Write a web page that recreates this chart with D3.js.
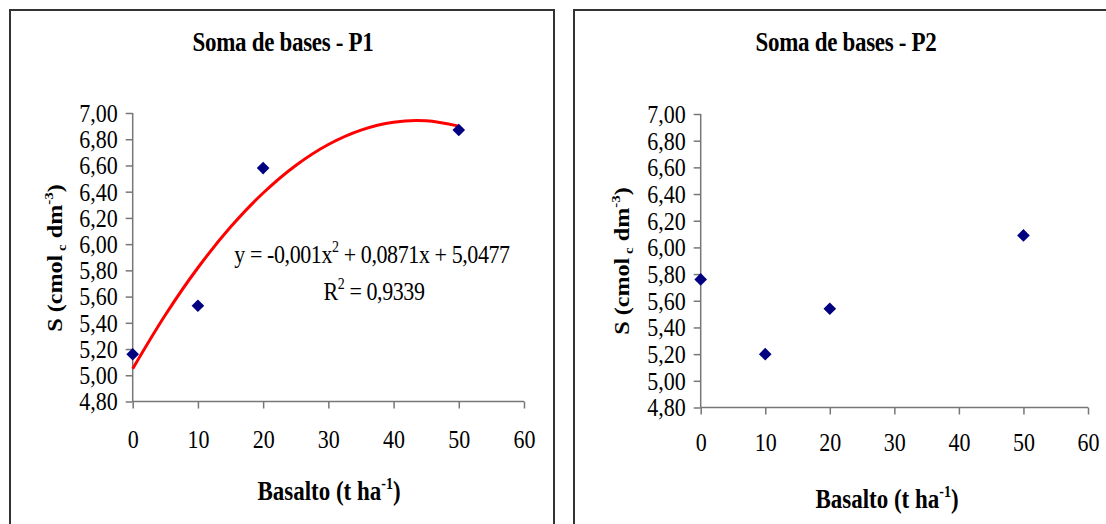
<!DOCTYPE html>
<html>
<head>
<meta charset="utf-8">
<script src="https://cdn.jsdelivr.net/npm/d3@7"></script>
<style>
  html, body { margin: 0; padding: 0; background: #fff; }
  svg text { font-family: "Liberation Serif", "Times New Roman", serif !important; }
</style>
</head>
<body>
<div id="chart"></div>
<script>
// dados
const doses = [0, 10, 20, 50];
const somaP1 = [5.16, 5.53, 6.58, 6.87];
const somaP2 = [5.76, 5.20, 5.54, 6.09];
// linha de tendência (polinomial) P1
const trendDoses = [0, 5, 10, 15, 20, 25, 30, 35, 40, 45, 50];
const trendP1 = [5.05, 5.46, 5.82, 6.13, 6.39, 6.60, 6.76, 6.87, 6.93, 6.94, 6.90];
const xTicks = [0, 10, 20, 30, 40, 50, 60];
const yTicks = [4.8, 5.0, 5.2, 5.4, 5.6, 5.8, 6.0, 6.2, 6.4, 6.6, 6.8, 7.0];
const titles = ['Soma de bases - P1', 'Soma de bases - P2'];

const W = 1106, H = 524;
const SY = 1.15; // texto do original é esticado na vertical
const br = d3.formatLocale({ decimal: ',', thousands: '.', grouping: [3], currency: ['R$', ''] });
const fmt = br.format('.2f');

const svg = d3.select('#chart').append('svg')
    .attr('width', W)
    .attr('height', H);

// texto posicionado com esticamento vertical
function label (g, x, y, size, bold) {
    return g.append('text')
        .attr('transform', `translate(${x},${y}) scale(1,${SY})`)
        .attr('text-anchor', 'middle')
        .attr('font-weight', bold ? 'bold' : null)
        .attr('font-size', size);
}

function panel (opts) {
    const g = svg.append('g');

    // moldura
    g.append('rect')
        .attr('x', opts.box[0]).attr('y', opts.box[1])
        .attr('width', opts.box[2]).attr('height', opts.box[3])
        .attr('fill', 'none')
        .attr('stroke', '#333')
        .attr('stroke-width', 2);

    const x = d3.scaleLinear().domain([0, 60]).range(opts.xr);
    const y = d3.scaleLinear().domain([4.8, 7]).range(opts.yr);

    // eixos
    const yAxis = d3.axisLeft(y).tickValues(yTicks).tickSize(7).tickFormat(fmt);
    const ga = g.append('g')
        .attr('transform', `translate(${opts.xr[0]},0)`)
        .call(yAxis);
    ga.select('.domain').attr('d', `M0,${opts.yr[1]}V${opts.yr[0]}`);

    const xAxis = d3.axisBottom(x).tickValues(xTicks).tickSize(7).tickFormat(d3.format('d'));
    const gb = g.append('g')
        .attr('transform', `translate(0,${opts.yr[0]})`)
        .call(xAxis);
    gb.select('.domain').attr('d', `M${opts.xr[0]},0H${opts.xr[1]}`);

    [ga, gb].forEach((a) => {
        a.attr('font-family', null).attr('font-size', 22);
        a.selectAll('.domain, .tick line').attr('stroke', '#777').attr('stroke-width', 1.5);
        a.selectAll('text').attr('fill', '#000');
    });
    ga.selectAll('.tick text')
        .attr('x', -15).attr('dy', '0.33em')
        .attr('transform', `scale(1,${SY})`);
    gb.selectAll('.tick text')
        .attr('y', (opts.xLabelY - opts.yr[0]) / SY).attr('dy', 0)
        .attr('transform', `scale(1,${SY})`);

    // título
    label(g, opts.titleX, 51, 23, true)
        .attr('letter-spacing', -0.3)
        .text(opts.title);

    // rótulo x
    const tx = label(g, opts.xTitle[0], opts.xTitle[1], 23, true);
    tx.append('tspan').text('Basalto (t ha');
    tx.append('tspan').attr('dy', -10).attr('font-size', 14).text('-1');
    tx.append('tspan').attr('dy', 10).text(')');

    // rótulo y
    const ty = g.append('text')
        .attr('transform', `translate(${opts.yTitle[0]},${opts.yTitle[1]}) rotate(-90) scale(${SY},1)`)
        .attr('text-anchor', 'middle')
        .attr('font-weight', 'bold')
        .attr('font-size', 21);
    ty.append('tspan').text('S (cmol');
    ty.append('tspan').attr('dy', 4).attr('font-size', 13).text(' c');
    ty.append('tspan').attr('dy', -4).text(' dm');
    ty.append('tspan').attr('dy', -9).attr('font-size', 13).text('-3');
    ty.append('tspan').attr('dy', 9).text(')');

    // tendência
    if (opts.trend) {
        const line = d3.line()
            .x((d, i) => x(trendDoses[i]))
            .y((d) => y(d))
            .curve(d3.curveCatmullRom);
        g.append('path')
            .datum(opts.trend)
            .attr('d', line)
            .attr('fill', 'none')
            .attr('stroke', '#ff0000')
            .attr('stroke-width', 3);
    }

    // pontos
    g.selectAll('path.pt')
        .data(opts.values)
        .enter()
        .append('path')
        .attr('class', 'pt')
        .attr('d', d3.symbol().type(d3.symbolSquare).size(80))
        .attr('transform', (d, i) => `translate(${x(doses[i])},${y(d)}) rotate(45)`)
        .attr('fill', '#000080');

    return g;
}

const p1 = panel({
    box: [10, 10, 544, 530],
    xr: [132.7, 524],
    yr: [401.5, 113],
    xLabelY: 448,
    title: titles[0],
    titleX: 283,
    xTitle: [329, 500],
    yTitle: [62, 258],
    values: somaP1,
    trend: trendP1
});

// equação
const eq = label(p1, 372, 263, 22).attr('letter-spacing', -0.4);
eq.append('tspan').text('y = -0,001x');
eq.append('tspan').attr('dy', -10).attr('font-size', 14).text('2');
eq.append('tspan').attr('dy', 10).text(' + 0,0871x + 5,0477');

const r2 = label(p1, 374, 300, 22).attr('letter-spacing', -0.4);
r2.append('tspan').text('R');
r2.append('tspan').attr('dy', -10).attr('font-size', 14).text('2');
r2.append('tspan').attr('dy', 10).text(' = 0,9339');

panel({
    box: [574, 10, 540, 530],
    xr: [700.7, 1088],
    yr: [407.5, 114],
    xLabelY: 451,
    title: titles[1],
    titleX: 846,
    xTitle: [887, 508],
    yTitle: [629, 261],
    values: somaP2
});
</script>
</body>
</html>
